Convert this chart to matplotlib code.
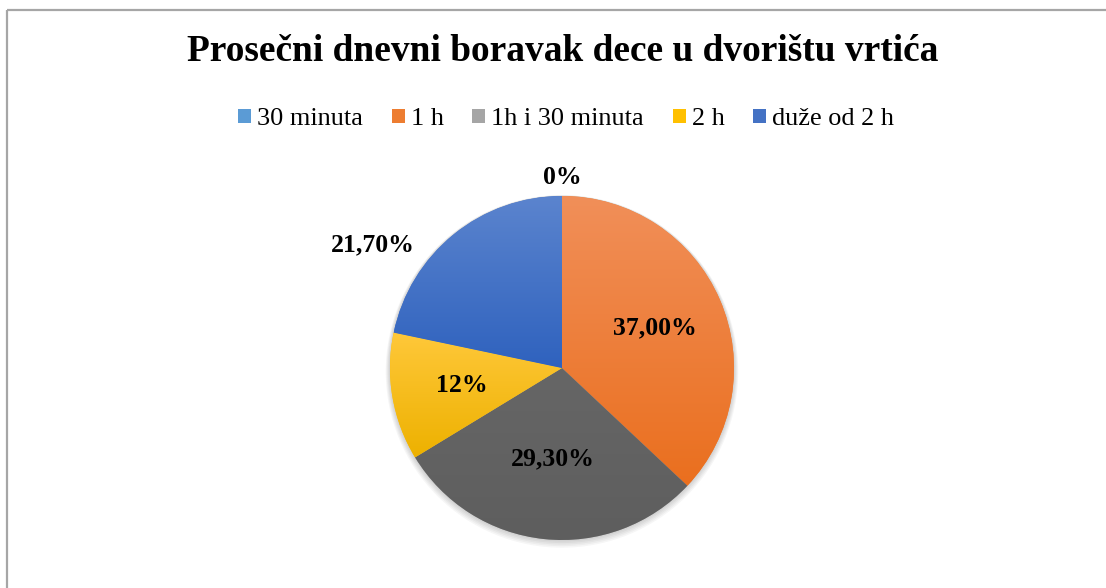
import numpy as np
import matplotlib
matplotlib.use("Agg")
import matplotlib.pyplot as plt
from matplotlib.patches import Patch, Circle
from matplotlib.colors import to_rgb

title = "Prosečni dnevni boravak dece u dvorištu vrtića"
categories = ["30 minuta", "1 h", "1h i 30 minuta", "2 h", "duže od 2 h"]
values = [0.0, 37.0, 29.3, 12.0, 21.7]
value_labels = ["0%", "37,00%", "29,30%", "12%", "21,70%"]

legend_colors = ["#5B9BD5", "#ED7D31", "#A5A5A5", "#FFC000", "#4472C4"]
grad_top = ["#6FA8DC", "#F18F59", "#666666", "#FFC83A", "#5B84CE"]
grad_bot = ["#3E87CC", "#EA6F1E", "#5E5E5E", "#EDB100", "#2F62BE"]

# label placement: (radius, angle override or None)
label_place = [(1.11, 90.0), (0.59, None), (0.53, None), (0.59, None), (1.31, 147.0)]

W, H = 1106, 588
fig = plt.figure(figsize=(W / 100, H / 100), dpi=100)
fig.patch.set_facecolor("white")

serif = ["Liberation Serif", "DejaVu Serif"]

# border (top and left visible)
bx = fig.add_axes([0, 0, 1, 1])
bx.set_xlim(0, W); bx.set_ylim(H, 0); bx.axis("off")
bx.plot([6.5, W], [9.5, 9.5], color="#A6A6A6", lw=1.6, solid_capstyle="butt")
bx.plot([6.5, 6.5], [9.5, H], color="#A6A6A6", lw=1.6, solid_capstyle="butt")

cx, cy, R = 562, 368, 172
ax = fig.add_axes([(cx - R) / W, (H - cy - R) / H, 2 * R / W, 2 * R / H])
ax.set_xlim(-1, 1); ax.set_ylim(-1, 1)
ax.axis("off")

# soft shadow around the pie
for k in range(1, 6):
    ax.add_patch(Circle((0.0, -0.004 * k), 1.0 + 0.005 * k, facecolor="black",
                        alpha=0.035, edgecolor="none", zorder=0.5, clip_on=False))

wedges, _ = ax.pie(values, startangle=90, counterclock=False, radius=1.0,
                   colors=legend_colors, wedgeprops=dict(linewidth=0))

for i, w in enumerate(wedges):
    w.set_zorder(1)
    if values[i] <= 0:
        continue
    path = w.get_path().transformed(w.get_patch_transform())
    ext = path.get_extents()
    t = np.array(to_rgb(grad_top[i])); b = np.array(to_rgb(grad_bot[i]))
    s = np.linspace(0, 1, 256)[:, None]
    img = (t[None, :] * (1 - s) + b[None, :] * s)[:, None, :]
    img = np.repeat(img, 2, axis=1)
    im = ax.imshow(img, extent=(ext.x0, ext.x1, ext.y0, ext.y1), origin="upper",
                   aspect="auto", zorder=2, interpolation="bilinear")
    im.set_clip_path(w)
ax.set_xlim(-1, 1); ax.set_ylim(-1, 1)

# labels
for i, w in enumerate(wedges):
    mid = (w.theta1 + w.theta2) / 2.0
    r, ang = label_place[i]
    a = np.deg2rad(mid if ang is None else ang)
    ax.text(r * np.cos(a), r * np.sin(a), value_labels[i], ha="center", va="center",
            fontsize=18.5, fontweight="bold", family=serif, color="black",
            clip_on=False, zorder=5)

fig.text(563 / W, 1 - 61 / H, title, ha="center", va="baseline", fontsize=26.9,
         fontweight="bold", family=serif)

handles = [Patch(facecolor=c, edgecolor="none") for c in legend_colors]
leg = fig.legend(handles, categories, loc="center", bbox_to_anchor=(566 / W, 1 - 119 / H),
                 ncol=5, frameon=False, handlelength=0.5, handleheight=0.45,
                 handletextpad=0.22, columnspacing=1.1,
                 prop=dict(family=serif, size=18.9))

fig.savefig("out.png", dpi=100, facecolor="white")
